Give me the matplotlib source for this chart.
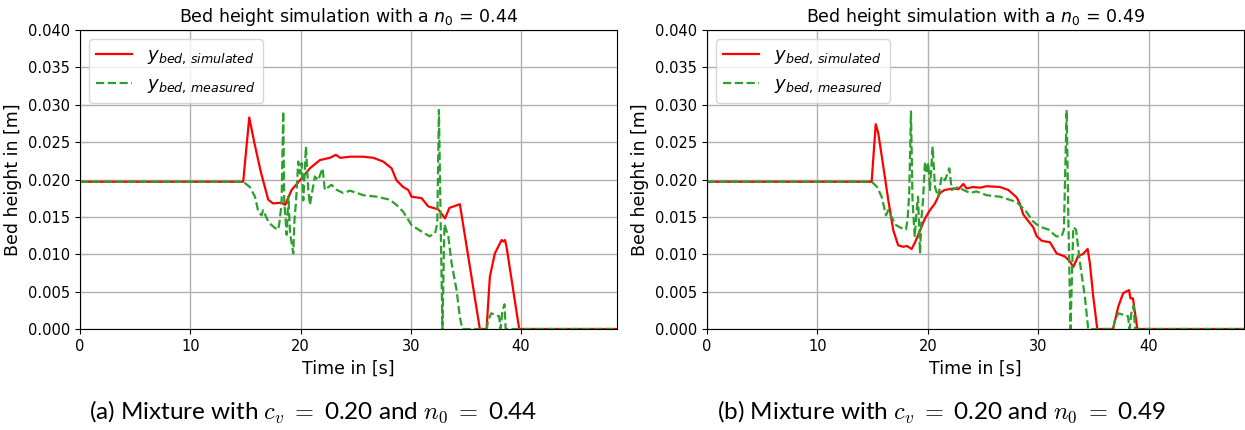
import matplotlib
matplotlib.use("Agg")
import matplotlib.pyplot as plt

# ---- data (time in s, bed height in m) ----
t_sim_a = [0, 14.8, 15.35, 15.8, 16.4, 17.07, 17.5, 18.28, 18.6, 19.19, 19.95, 20.85, 21.76,
           22.66, 23.2, 23.6, 24.48, 25.7, 26.6, 27.5, 28.26, 28.7, 29.3, 29.77, 30.07,
           30.98, 31.58, 32.5, 33.1, 33.5, 34.45, 36.26, 36.87, 37.17, 37.62, 38.23, 38.4,
           38.55, 38.68, 39.83, 48.7]
y_sim_a = [0.0197, 0.0197, 0.0283, 0.0250, 0.0210, 0.0173, 0.0168, 0.0169, 0.0166, 0.0186,
           0.0199, 0.0215, 0.0226, 0.0229, 0.0233, 0.0229, 0.02305, 0.02305, 0.0229, 0.0224,
           0.0215, 0.0199, 0.0190, 0.0186, 0.0177, 0.0175, 0.0164, 0.0160, 0.0148, 0.0162,
           0.0167, 0.0, 0.0, 0.0070, 0.0101, 0.0119, 0.0117, 0.0119, 0.0110, 0.0, 0.0]

t_meas_a = [0, 14.8, 15.4, 15.87, 16.17, 16.47, 16.6, 17.07, 17.3, 17.68, 17.98, 18.1,
            18.28, 18.43, 18.52, 18.74, 18.9, 19.05, 19.34, 19.45, 19.6, 19.79, 19.95,
            20.1, 20.25, 20.49, 20.7, 20.85, 21.3, 21.6, 22.0, 22.2, 22.8, 23.3, 23.87,
            24.5, 25.7, 26.9, 28.1, 28.7, 29.3, 30.07, 30.8, 31.7, 32.2, 32.4, 32.55,
            32.7, 32.87, 33.05, 33.4, 33.7, 34.15, 34.45, 34.67, 36.9, 37.0, 37.3, 37.7,
            38.0, 38.15, 38.3, 38.5, 38.6, 48.7]
y_meas_a = [0.0197, 0.0197, 0.0190, 0.0177, 0.0157, 0.0152, 0.0159, 0.0144, 0.0140, 0.0135,
            0.0133, 0.0144, 0.0168, 0.0291, 0.0172, 0.0126, 0.0177, 0.0128, 0.0101, 0.0146,
            0.0172, 0.0224, 0.0208, 0.0222, 0.0172, 0.0244, 0.0186, 0.0166, 0.0204, 0.0199,
            0.0215, 0.0186, 0.0193, 0.0186, 0.0182, 0.0185, 0.0179, 0.0177, 0.0173, 0.0166,
            0.0157, 0.0139, 0.0132, 0.0124, 0.0128, 0.0141, 0.0293, 0.0150, 0.0, 0.0140,
            0.0124, 0.0088, 0.0052, 0.0016, 0.0, 0.0, 0.0011, 0.0021, 0.0019, 0.0017, 0.0,
            0.0024, 0.0033, 0.0, 0.0]

t_sim_b = [0, 14.9, 15.27, 15.5, 15.96, 16.4, 16.86, 17.3, 17.75, 18.1, 18.52, 18.8, 19.28,
           19.73, 20.18, 20.63, 21.09, 21.5, 22.3, 22.75, 23.2, 23.5, 24.1, 24.7, 25.3, 26.5,
           27.27, 28.03, 28.3, 28.63, 29.1, 29.53, 29.84, 30.3, 31.04, 31.65, 32.4, 32.85,
           33.15, 33.6, 34.0, 34.45, 34.65, 34.96, 35.32, 36.75, 37.22, 37.67, 38.2, 38.32,
           38.55, 38.7, 38.95, 48.6]
y_sim_b = [0.0197, 0.0197, 0.0274, 0.0262, 0.0217, 0.0173, 0.0132, 0.0112, 0.0110, 0.0111,
           0.0107, 0.0115, 0.0132, 0.0148, 0.0159, 0.0168, 0.0182, 0.0186, 0.0188, 0.0187,
           0.0194, 0.0188, 0.0190, 0.0189, 0.0191, 0.0190, 0.0186, 0.0176, 0.0168, 0.0153,
           0.0144, 0.0136, 0.0124, 0.0118, 0.0116, 0.0101, 0.0097, 0.0090, 0.0083, 0.0098,
           0.0100, 0.0107, 0.0088, 0.0043, 0.0, 0.0, 0.0030, 0.0048, 0.0052, 0.0041, 0.0041,
           0.0025, 0.0, 0.0]

t_meas_b = [0, 14.9, 15.4, 15.8, 16.2, 16.4, 16.7, 17.1, 17.6, 18.0, 18.15, 18.3, 18.46,
            18.6, 18.8, 18.95, 19.1, 19.28, 19.42, 19.55, 19.73, 19.88, 20.03, 20.18, 20.42,
            20.63, 20.93, 21.24, 21.54, 21.93, 22.15, 22.75, 23.2, 23.8, 24.4, 25.3, 26.5,
            28.0, 28.8, 29.5, 30.1, 30.9, 31.6, 32.1, 32.3, 32.55, 32.7, 32.9, 33.15, 33.4,
            33.76, 34.2, 34.5, 36.75, 36.9, 37.22, 37.67, 38.1, 38.25, 38.4, 38.6, 38.75, 48.6]
y_meas_b = [0.0197, 0.0197, 0.0190, 0.0177, 0.0152, 0.0159, 0.0150, 0.0139, 0.0135, 0.0133,
            0.0146, 0.0181, 0.0291, 0.0172, 0.0123, 0.0155, 0.0177, 0.0101, 0.0150, 0.0172,
            0.0224, 0.0208, 0.0222, 0.0186, 0.0244, 0.0190, 0.0177, 0.0204, 0.0199, 0.0215,
            0.0186, 0.0190, 0.0186, 0.0182, 0.0184, 0.0179, 0.0177, 0.0170, 0.0159, 0.0144,
            0.0137, 0.0133, 0.0124, 0.0124, 0.0133, 0.0293, 0.0150, 0.0, 0.0136, 0.0133,
            0.0088, 0.0043, 0.0, 0.0, 0.0011, 0.0021, 0.0019, 0.0017, 0.0, 0.0021, 0.0031,
            0.0, 0.0]

panels = [
    (t_sim_a, y_sim_a, t_meas_a, y_meas_a, "0.44", "(a)", 48.7),
    (t_sim_b, y_sim_b, t_meas_b, y_meas_b, "0.49", "(b)", 48.6),
]

plt.rcParams['font.family'] = ['DejaVu Sans']
plt.rcParams['mathtext.fontset'] = 'dejavusans'
fig = plt.figure(figsize=(12.45, 4.30), dpi=100)

# axes positions in figure fractions
boxes = [(80 / 1245, 1 - 329 / 430, 537 / 1245, 299 / 430),
         (707 / 1245, 1 - 329 / 430, 537 / 1245, 299 / 430)]
cap_x = [313 / 1245, 941 / 1245]

for i, (ts, ys, tm, ym, n0, tag, xmax) in enumerate(panels):
    ax = fig.add_axes(boxes[i])
    ax.plot(ts, ys, color="red", lw=1.6, label=r"$y_{bed,\,simulated}$")
    ax.plot(tm, ym, color="tab:green", lw=1.6, ls="--", label=r"$y_{bed,\,measured}$")
    ax.set_xlim(0, xmax)
    ax.set_ylim(0, 0.040)
    ax.set_yticks([0.0, 0.005, 0.010, 0.015, 0.020, 0.025, 0.030, 0.035, 0.040])
    ax.set_yticklabels(["%.3f" % v for v in ax.get_yticks()])
    ax.set_xticks([0, 10, 20, 30, 40])
    ax.tick_params(labelsize=10.5)
    ax.grid(True, color="#b0b0b0", lw=1)
    ax.set_axisbelow(True)
    ax.set_xlabel("Time in [s]", fontsize=12.5)
    ax.set_ylabel("Bed height in [m]", fontsize=12.5)
    ax.set_title("Bed height simulation with a $n_0$ = " + n0, fontsize=12.5)
    ax.legend(loc="upper left", fontsize=13)
    # caption under each panel
    fig.text(cap_x[i], 1 - 412 / 430,
             tag + r" Mixture with $c_v$ $=$ 0.20 and $n_0$ $=$ " + n0,
             ha="center", va="center", fontsize=17.5, family="Lato",
             math_fontfamily="cm")

fig.savefig("out.png", dpi=100)
